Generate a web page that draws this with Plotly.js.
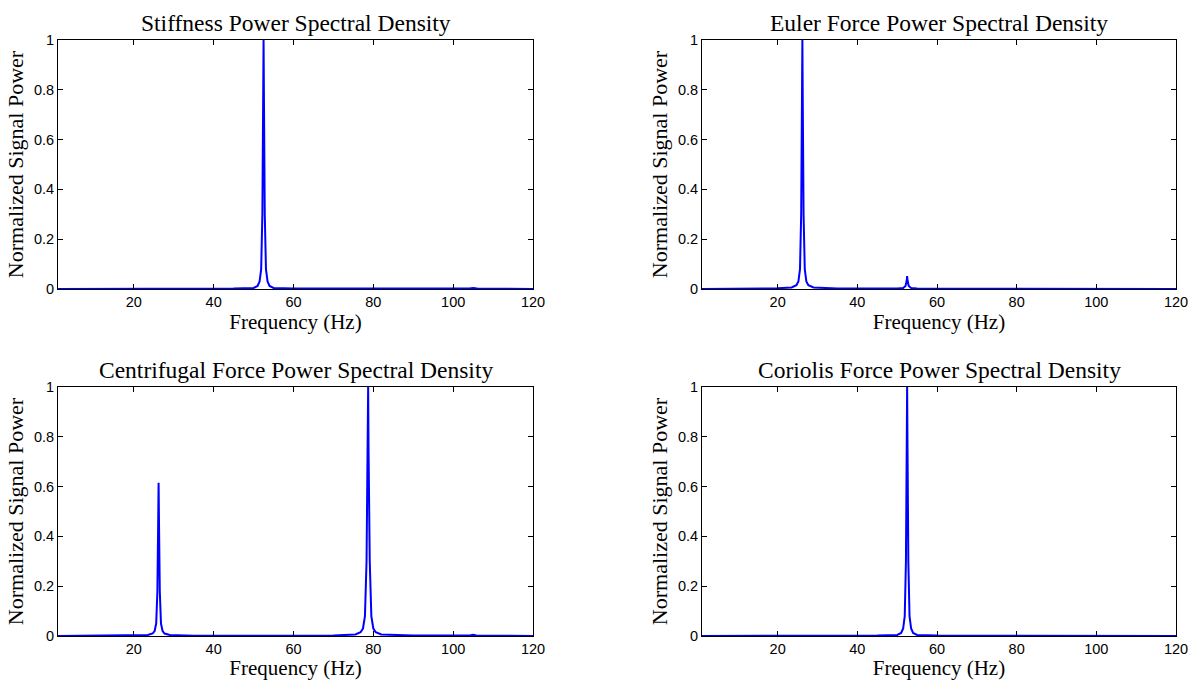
<!DOCTYPE html>
<html>
<head>
<meta charset="utf-8">
<script src="https://cdn.plot.ly/plotly-3.0.1.min.js"></script>
<style>html,body{margin:0;padding:0;background:#fff;}#chart{width:1198px;height:680px;}</style>
</head>
<body>
<div id="chart"></div>
<script>
// ---- data ----
const titles = [
  "Stiffness Power Spectral Density",
  "Euler Force Power Spectral Density",
  "Centrifugal Force Power Spectral Density",
  "Coriolis Force Power Spectral Density"
];
const xTickVals = [20, 40, 60, 80, 100, 120];
const yTickVals = [0, 0.2, 0.4, 0.6, 0.8, 1];
const yTickText = ["0", "0.2", "0.4", "0.6", "0.8", "1"];

const stiffnessFreq  = [1, 10, 30, 45, 50, 51, 51.5, 51.9, 52.2, 52.4, 52.5, 52.6, 52.8, 53.1, 53.5, 54, 55, 60, 80, 100, 104, 105, 106, 110, 120];
const stiffnessPower = [0, 0, 0.001, 0.002, 0.004, 0.012, 0.03, 0.08, 0.3, 0.75, 1, 0.75, 0.3, 0.08, 0.03, 0.012, 0.004, 0.002, 0.001, 0.001, 0.002, 0.004, 0.002, 0.001, 0];

const eulerFreq  = [1, 10, 20, 23.5, 24.7, 25.2, 25.6, 25.9, 26.1, 26.2, 26.3, 26.5, 26.8, 27.2, 27.7, 29, 35, 45, 50, 51.5, 52.1, 52.4, 52.5, 52.6, 52.9, 53.5, 55, 65, 80, 100, 120];
const eulerPower = [0, 0.001, 0.003, 0.006, 0.015, 0.03, 0.08, 0.3, 0.75, 1, 0.75, 0.3, 0.08, 0.03, 0.015, 0.006, 0.002, 0.001, 0.002, 0.004, 0.012, 0.035, 0.052, 0.035, 0.012, 0.004, 0.002, 0.001, 0, 0, 0];

const centriFreq  = [1, 10, 20, 23.5, 24.7, 25.2, 25.6, 25.9, 26.1, 26.2, 26.3, 26.5, 26.8, 27.2, 27.7, 29, 35, 50, 70, 75.5, 76.8, 77.4, 77.9, 78.3, 78.6, 78.7, 78.8, 79.1, 79.5, 80, 80.6, 82, 90, 100, 104.2, 105, 105.8, 110, 120];
const centriPower = [0, 0.001, 0.002, 0.004, 0.01, 0.02, 0.05, 0.18, 0.46, 0.615, 0.46, 0.18, 0.05, 0.02, 0.01, 0.004, 0.001, 0.001, 0.002, 0.006, 0.015, 0.03, 0.08, 0.3, 0.75, 1, 0.75, 0.3, 0.08, 0.03, 0.015, 0.006, 0.002, 0.001, 0.002, 0.005, 0.002, 0.001, 0];

const coriolisFreq  = [1, 10, 30, 45, 50, 51, 51.5, 51.9, 52.2, 52.4, 52.5, 52.6, 52.8, 53.1, 53.5, 54, 55, 60, 80, 100, 120];
const coriolisPower = [0, 0, 0.001, 0.002, 0.004, 0.012, 0.03, 0.08, 0.3, 0.75, 1, 0.75, 0.3, 0.08, 0.03, 0.012, 0.004, 0.002, 0.001, 0, 0];

// ---- drawing ----
const W = 1198, H = 680;
const xDomL = [58 / W, 533 / W];
const xDomR = [702 / W, 1176 / W];
const yDomT = [1 - 289 / H, 1 - 40 / H];
const yDomB = [1 - 636 / H, 1 - 387 / H];

const series = [
  [stiffnessFreq, stiffnessPower],
  [eulerFreq, eulerPower],
  [centriFreq, centriPower],
  [coriolisFreq, coriolisPower]
];
const axisIds = ["", "2", "3", "4"];

const traces = series.map((s, i) => ({
  x: s[0], y: s[1], type: "scatter", mode: "lines",
  line: {color: "#0000ff", width: 2},
  xaxis: "x" + axisIds[i], yaxis: "y" + axisIds[i],
  hoverinfo: "skip", showlegend: false
}));

const serif = "Liberation Serif, DejaVu Serif, serif";
const sans = "Liberation Sans, Arial, sans-serif";

function xAxis(domain, anchor) {
  return {
    domain: domain, anchor: anchor, range: [1, 120],
    tickmode: "array", tickvals: xTickVals,
    ticks: "inside", ticklen: 5, tickcolor: "#000", tickwidth: 1,
    showline: true, linecolor: "#000", linewidth: 1, mirror: "ticks",
    showgrid: false, zeroline: false,
    tickfont: {family: sans, size: 14.5, color: "#000"},
    title: {text: "Frequency (Hz)", font: {family: serif, size: 21, color: "#000"}, standoff: 1}
  };
}
function yAxis(domain, anchor) {
  return {
    domain: domain, anchor: anchor, range: [0, 1],
    tickmode: "array", tickvals: yTickVals, ticktext: yTickText,
    ticks: "inside", ticklen: 5, tickcolor: "#000", tickwidth: 1,
    showline: true, linecolor: "#000", linewidth: 1, mirror: "ticks",
    showgrid: false, zeroline: false,
    tickfont: {family: sans, size: 14.5, color: "#000"},
    title: {text: "Normalized Signal Power", font: {family: serif, size: 22, color: "#000"}, standoff: 4}
  };
}

const layout = {
  width: W, height: H,
  margin: {l: 0, r: 0, t: 0, b: 0},
  paper_bgcolor: "#fff", plot_bgcolor: "#fff",
  xaxis: xAxis(xDomL, "y"), yaxis: yAxis(yDomT, "x"),
  xaxis2: xAxis(xDomR, "y2"), yaxis2: yAxis(yDomT, "x2"),
  xaxis3: xAxis(xDomL, "y3"), yaxis3: yAxis(yDomB, "x3"),
  xaxis4: xAxis(xDomR, "y4"), yaxis4: yAxis(yDomB, "x4"),
  annotations: titles.map((t, i) => ({
    text: t, showarrow: false,
    xref: "paper", yref: "paper",
    x: (i % 2 === 0 ? (xDomL[0] + xDomL[1]) / 2 : (xDomR[0] + xDomR[1]) / 2),
    y: (i < 2 ? yDomT[1] : yDomB[1]),
    yshift: 2, xanchor: "center", yanchor: "bottom",
    font: {family: serif, size: 23.5, color: "#000"}
  }))
};

Plotly.newPlot("chart", traces, layout, {staticPlot: true, displayModeBar: false});
</script>
</body>
</html>
